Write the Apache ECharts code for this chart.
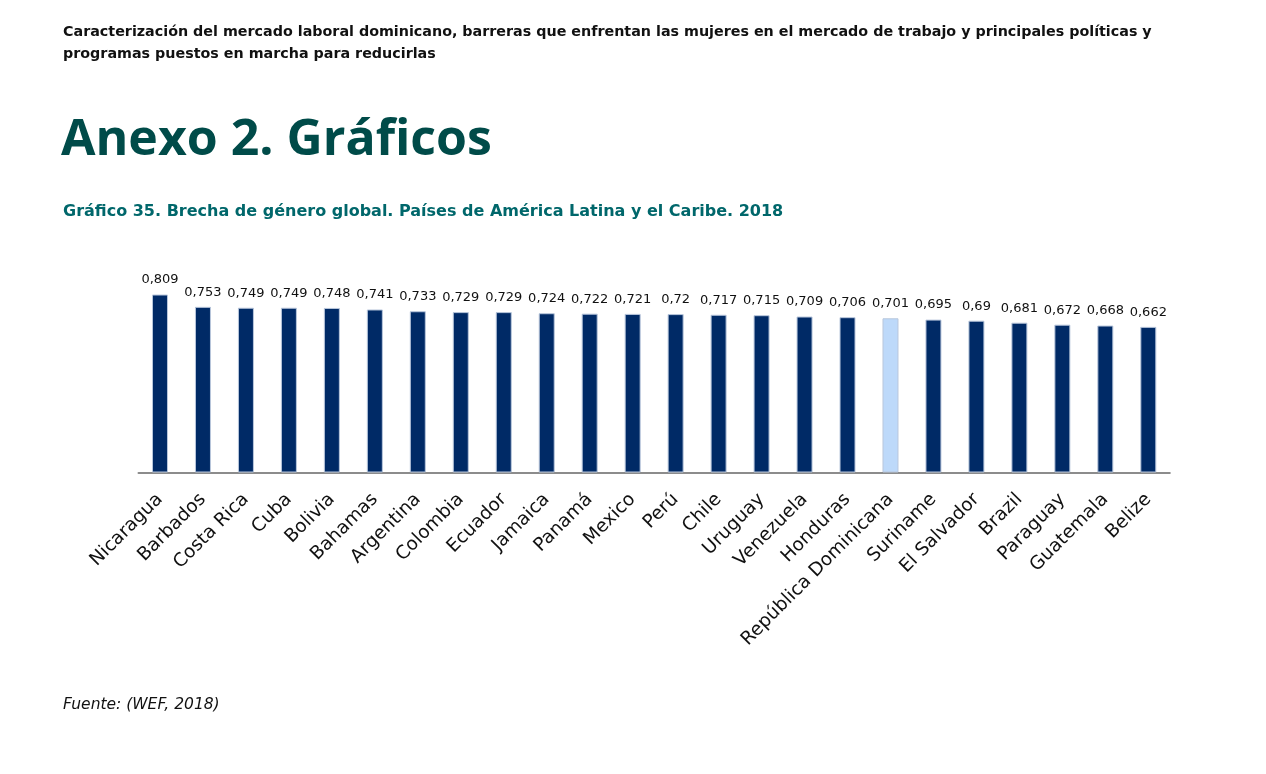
<!DOCTYPE html>
<html>
<head>
<meta charset="utf-8">
<script src="https://cdn.jsdelivr.net/npm/echarts@6/dist/echarts.min.js"></script>
<style>
html,body{margin:0;padding:0;background:#fff;}
#chart{width:1266px;height:774px;}
</style>
</head>
<body>
<div id="chart"></div>
<script>
const countries = ['Nicaragua','Barbados','Costa Rica','Cuba','Bolivia','Bahamas','Argentina','Colombia','Ecuador','Jamaica','Panamá','Mexico','Perú','Chile','Uruguay','Venezuela','Honduras','República Dominicana','Suriname','El Salvador','Brazil','Paraguay','Guatemala','Belize'];
const values = [0.809,0.753,0.749,0.749,0.748,0.741,0.733,0.729,0.729,0.724,0.722,0.721,0.72,0.717,0.715,0.709,0.706,0.701,0.695,0.69,0.681,0.672,0.668,0.662];
const highlighted = ['República Dominicana'];

const headerLine1 = 'Caracterización del mercado laboral dominicano, barreras que enfrentan las mujeres en el mercado de trabajo y principales políticas y';
const headerLine2 = 'programas puestos en marcha para reducirlas';
const sectionTitle = 'Anexo 2. Gráficos';
const chartTitle = 'Gráfico 35. Brecha de género global. Países de América Latina y el Caribe. 2018';
const source = 'Fuente: (WEF, 2018)';

const FONT = '"DejaVu Sans", sans-serif';
const TFONT = '"Open Sans", Lato, sans-serif';
const chart = echarts.init(document.getElementById('chart'));
chart.setOption({
  backgroundColor: '#ffffff',
  animation: false,
  graphic: [
    {type:'text', left:63, top:25, style:{text:headerLine1, font:'bold 14.3px ' + FONT, fill:'#111'}},
    {type:'text', left:63, top:47, style:{text:headerLine2, font:'bold 14.3px ' + FONT, fill:'#111'}},
    {type:'text', left:61, top:116, style:{text:sectionTitle, font:'bold 50px ' + TFONT, fill:'#004B49'}},
    {type:'text', left:63, top:204, style:{text:chartTitle, font:'bold 16px ' + FONT, fill:'#00676B'}},
    {type:'text', left:63, top:697, style:{text:source, font:'oblique 15.5px ' + FONT, fill:'#111'}}
  ],
  grid: {left:138.5, right:1266-1169.8, top:252.5, bottom:774-472.5, containLabel:false},
  xAxis: {
    type:'category',
    data: countries,
    axisLine:{show:true, lineStyle:{color:'#8c8c8c', width:2}},
    axisTick:{show:false},
    axisLabel:{interval:0, rotate:45, margin:24, color:'#111', fontSize:18.5, fontFamily:FONT}
  },
  yAxis: {type:'value', min:0, max:1, show:false, splitLine:{show:false}},
  series: [{
    type:'bar',
    barWidth:16,
    data: values.map((v,i)=>({
      value:v,
      itemStyle:{color: highlighted.includes(countries[i]) ? '#BDD9FA' : '#002A66'}
    })),
    itemStyle:{borderColor:'#b9c7dc', borderWidth:1},
    label:{show:true, position:'top', distance:8, color:'#111', fontSize:13, fontFamily:FONT,
      formatter: p => String(p.value).replace('.', ',')}
  }]
});
</script>
</body>
</html>
